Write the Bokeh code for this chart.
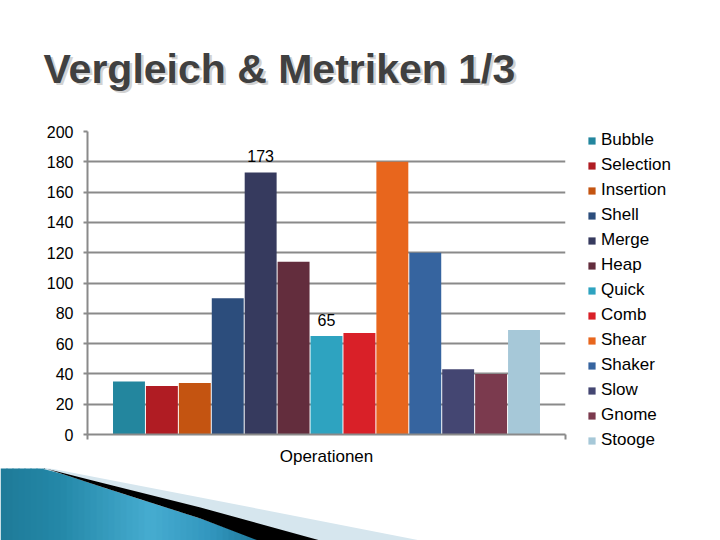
from bokeh.plotting import figure
from bokeh.models import ColumnDataSource, FixedTicker, Range1d, Label
from bokeh.core.properties import value
from bokeh.embed import file_html
from bokeh.resources import INLINE

# ---------------- data ----------------
algorithms = ["Bubble", "Selection", "Insertion", "Shell", "Merge", "Heap", "Quick",
              "Comb", "Shear", "Shaker", "Slow", "Gnome", "Stooge"]
operations = [35, 32, 34, 90, 173, 114, 65, 67, 180, 120, 43, 40, 69]
shown_labels = ["", "", "", "", "173", "", "65", "", "", "", "", "", ""]
colors = ["#23869e", "#b01c23", "#c45411", "#2c4d7c", "#363a5e", "#632d3d", "#2ea3c0",
          "#d92028", "#e8661d", "#36649f", "#444672", "#7b3a4e", "#a6c8d8"]
category_label = "Operationen"
y_ticks = [0, 20, 40, 60, 80, 100, 120, 140, 160, 180, 200]
title_text = "Vergleich & Metriken 1/3"

FONT = "Liberation Sans"
W = 720
TITLE_H = 110          # canvas rows 0..110
CHART_H = 358          # canvas rows 110..468
DECO_H = 540 - TITLE_H - CHART_H

def bare(fig):
    fig.axis.visible = False
    fig.grid.visible = False
    fig.outline_line_color = None
    fig.background_fill_color = "white"
    fig.border_fill_color = "white"

# ---------------- title strip ----------------
t = figure(width=W, height=TITLE_H, output_backend="svg", toolbar_location=None,
           x_range=Range1d(0, W), y_range=Range1d(TITLE_H, 0), min_border=0)
bare(t)
TY = 68
t.add_layout(Label(x=45.5, y=TY + 2.5, text=title_text, text_font=FONT,
                   text_font_style="bold", text_font_size="41px",
                   text_color="#d2d2d2", text_baseline="alphabetic"))
t.add_layout(Label(x=43, y=TY, text=title_text, text_font=FONT,
                   text_font_style="bold", text_font_size="41px",
                   text_color="#404040", text_baseline="alphabetic"))

# ---------------- chart ----------------
n = len(algorithms)
m = 0.76
x0, x1 = -0.5 - m, n - 0.5 + m
L = 87
FW, FH = 478, 303
T = 131 - TITLE_H
B = CHART_H - (434 - TITLE_H)
R = W - L - FW

src = ColumnDataSource(dict(x=list(range(n)), top=operations, name=algorithms,
                            color=colors, lab=shown_labels))

p = figure(frame_width=FW, frame_height=FH, output_backend="svg", toolbar_location=None,
           x_range=Range1d(x0, x1), y_range=Range1d(0, 200),
           min_border_left=L, min_border_right=R, min_border_top=T, min_border_bottom=B)
p.outline_line_color = None
p.background_fill_color = "white"
p.border_fill_color = "white"

p.vbar(x="x", top="top", width=0.97, source=src, fill_color="color",
       line_color=None, legend_field="name")
p.text(x="x", y="top", text="lab", source=src, text_align="center",
       text_baseline="middle", y_offset=-16, text_font=value(FONT),
       text_font_size="16px", text_color="#000000")

p.yaxis.ticker = FixedTicker(ticks=y_ticks)
p.yaxis.major_label_text_font = FONT
p.yaxis.major_label_text_font_size = "16px"
p.yaxis.major_label_text_color = "#000000"
p.yaxis.major_tick_out = 4
p.yaxis.major_tick_in = 0
p.yaxis.minor_tick_line_color = None
p.yaxis.major_label_standoff = 10
p.yaxis.axis_line_color = "#8a8a8a"
p.yaxis.axis_line_width = 2
p.yaxis.major_tick_line_color = "#8a8a8a"
p.yaxis.major_tick_line_width = 2

p.xaxis.ticker = FixedTicker(ticks=[(n - 1) / 2], minor_ticks=[x0 + 0.001, x1 - 0.001])
p.xaxis.major_label_overrides = {(n - 1) / 2: category_label}
p.xaxis.major_label_text_font = FONT
p.xaxis.major_label_text_font_size = "17px"
p.xaxis.major_label_text_color = "#000000"
p.xaxis.major_tick_line_color = None
p.xaxis.major_tick_out = 0
p.xaxis.major_label_standoff = 7
p.xaxis.minor_tick_out = 5
p.xaxis.minor_tick_in = 0
p.xaxis.minor_tick_line_color = "#8a8a8a"
p.xaxis.minor_tick_line_width = 2
p.xaxis.axis_line_color = "#8a8a8a"
p.xaxis.axis_line_width = 2

p.xgrid.grid_line_color = None
p.ygrid.grid_line_color = "#8a8a8a"
p.ygrid.grid_line_width = 2

lg = p.legend[0]
p.add_layout(lg, "right")
lg.location = (22, -16)
lg.glyph_width = 9
lg.glyph_height = 9
lg.label_text_font = FONT
lg.label_text_font_size = "17px"
lg.label_text_color = "#000000"
lg.label_height = 20
lg.spacing = 5
lg.padding = 0
lg.margin = 0
lg.label_standoff = 5
lg.border_line_color = None
lg.background_fill_alpha = 0

# ---------------- decoration strip (bottom-left swoosh) ----------------
Y0 = TITLE_H + CHART_H
d = figure(width=W, height=DECO_H, output_backend="svg", toolbar_location=None,
           x_range=Range1d(0, W), y_range=Range1d(540, Y0), min_border=0)
bare(d)
top_pts = [(0, 455), (33, 464), (100, 486), (200, 518), (263, 541)]
def top_at(x):
    for (ax, ay), (bx, by) in zip(top_pts[:-1], top_pts[1:]):
        if ax <= x <= bx:
            return ay + (by - ay) * (x - ax) / (bx - ax)
    return top_pts[-1][1]
stops = [(0, (30, 122, 152)), (60, (36, 136, 168)), (150, (70, 172, 208)),
         (210, (50, 150, 190)), (263, (28, 118, 152))]
def col_at(x):
    for (ax, ac), (bx, bc) in zip(stops[:-1], stops[1:]):
        if ax <= x <= bx:
            tt = (x - ax) / (bx - ax)
            c = [int(round(ac[i] + (bc[i] - ac[i]) * tt)) for i in range(3)]
            return "#%02x%02x%02x" % tuple(c)
    return "#%02x%02x%02x" % stops[-1][1]
sx, sy, sc = [], [], []
xa = 0
while xa < 263:
    xb = min(xa + 6, 263)
    xbb = min(xb + 1, 263)
    sx.append([xa, xbb, xbb, xa])
    sy.append([top_at(xa), top_at(xbb), 542, 542])
    sc.append(col_at((xa + xb) / 2))
    xa = xb
d.patches(sx, sy, fill_color=sc, line_color=None)
light = [(45, 467), (200, 497), (430, 542), (325, 542), (200, 508), (100, 483), (33, 466)]
d.patch([a for a, b in light], [b for a, b in light], fill_color="#d6e6ee", line_color=None)
black = [(33, 465), (100, 482), (200, 507), (327, 542), (263, 542), (200, 518), (100, 486), (33, 464)]
d.patch([a for a, b in black], [b for a, b in black], fill_color="#000000", line_color=None)

open("out.html", "w").write(file_html([t, p, d], INLINE))
